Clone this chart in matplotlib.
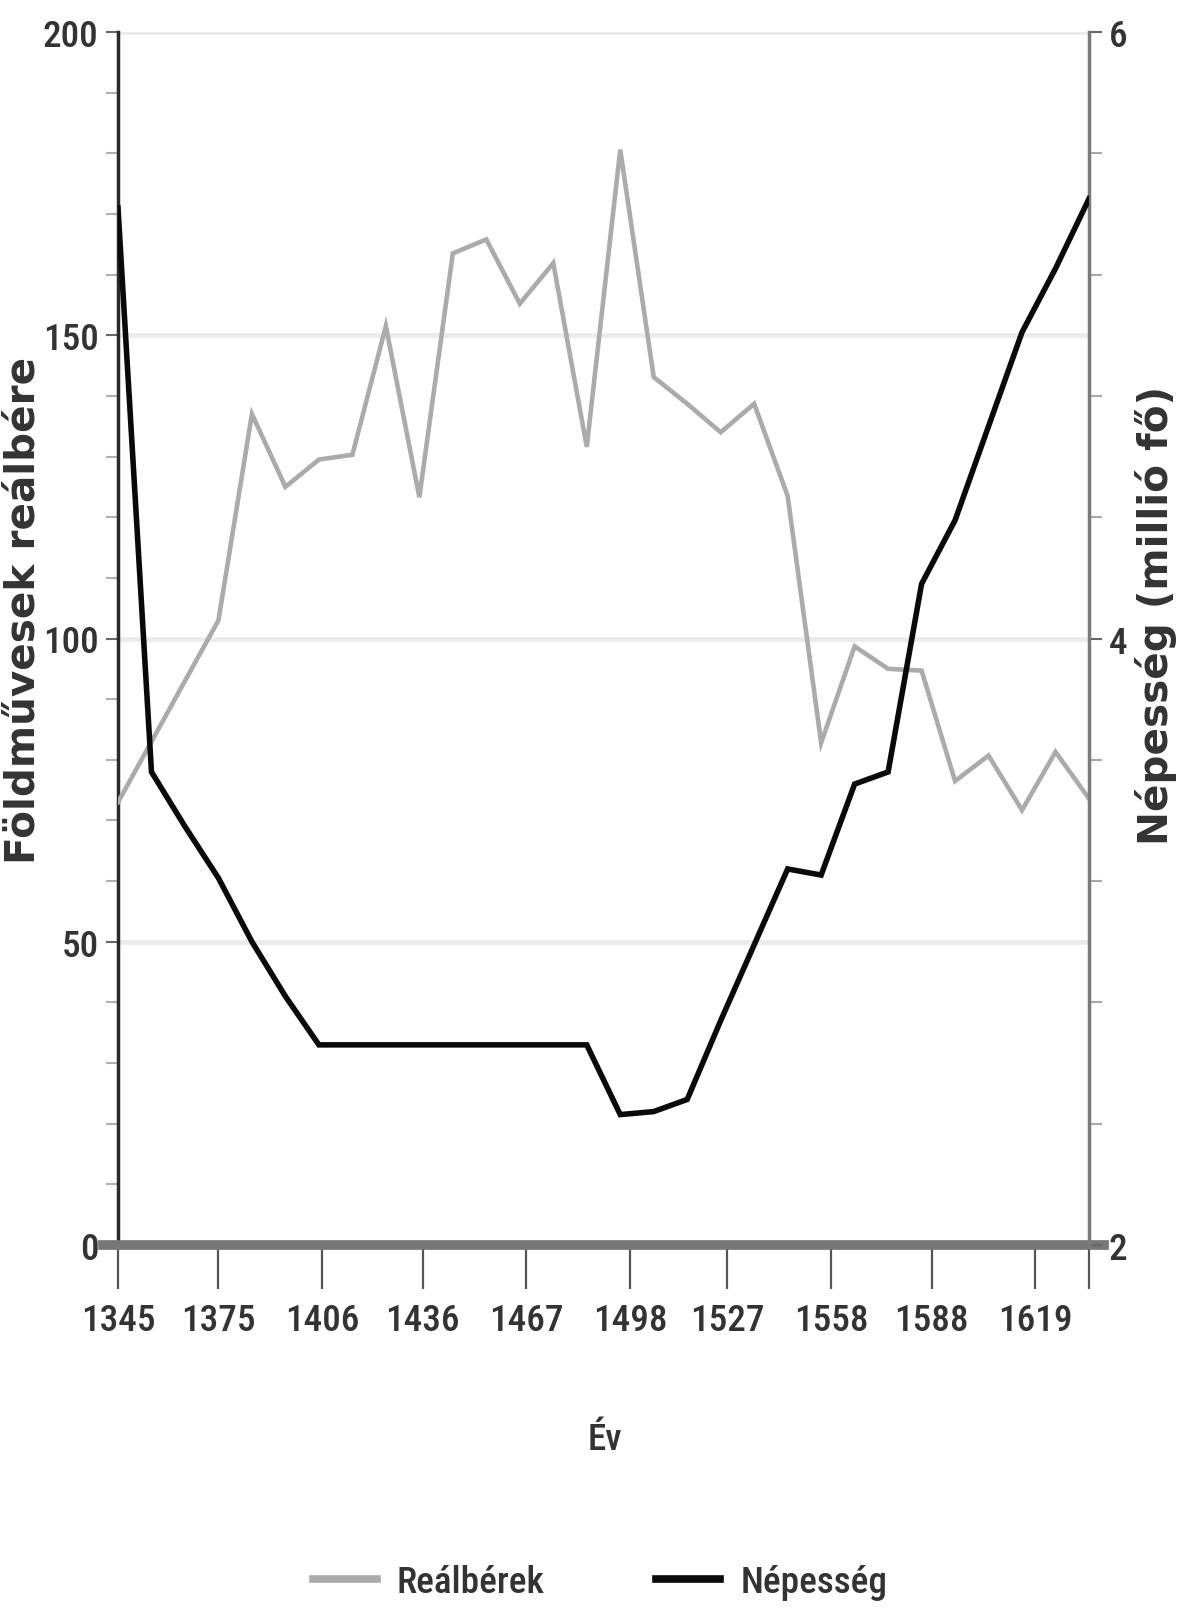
import os
import matplotlib
matplotlib.use("Agg")
import matplotlib.pyplot as plt
from matplotlib import font_manager as fm
from matplotlib.textpath import TextPath
from matplotlib.lines import Line2D
from matplotlib.ticker import FixedLocator, MultipleLocator, NullFormatter

# ---------------- data ----------------
years = [1345, 1355, 1365, 1375, 1385, 1395, 1405, 1415, 1425, 1435,
         1445, 1455, 1465, 1475, 1485, 1495, 1505, 1515, 1525, 1535,
         1545, 1555, 1565, 1575, 1585, 1595, 1605, 1615, 1625, 1635]
real_wages = [73, 83, 93, 103, 137, 125, 129.5, 130.3, 151.5, 123.3,
              163.5, 165.8, 155.2, 161.9, 131.6, 180.6, 143.1, 138.7, 134.0, 138.7,
              123.5, 82.8, 98.7, 95.0, 94.7, 76.5, 80.7, 71.7, 81.3, 73.6]
population = [5.42, 3.56, 3.38, 3.21, 3.00, 2.82, 2.66, 2.66, 2.66, 2.66,
              2.66, 2.66, 2.66, 2.66, 2.66, 2.43, 2.44, 2.48, 2.74, 2.99,
              3.24, 3.22, 3.52, 3.56, 4.18, 4.39, 4.70, 5.01, 5.22, 5.45]
xtick_years = [1345, 1375, 1406, 1436, 1467, 1498, 1527, 1558, 1588, 1619]
xtick_labels = ["1345", "1375", "1406", "1436", "1467", "1498", "1527", "1558", "1588", "1619"]
left_ticks = [0, 50, 100, 150, 200]
left_labels = ["0", "50", "100", "150", "200"]
right_ticks = [2, 4, 6]
right_labels = ["2", "4", "6"]
series_names = ["Reálbérek", "Népesség"]
left_title = "Földművesek reálbére"
right_title = "Népesség (millió fő)"
x_title = "Év"

DPI = 100

# ---------------- fonts ----------------
allowed = {"Noto Sans", "Liberation Sans Narrow", "Roboto", "Roboto Condensed",
           "Open Sans", "Open Sans Condensed", "DejaVu Sans", "Lato", "Inter",
           "Liberation Sans", "Noto Sans Display"}
cands = []
for f in fm.fontManager.ttflist:
    if f.name not in allowed or f.style != "normal":
        continue
    fn = os.path.basename(f.fname).lower()
    if "extracondensed" in fn or "ultracondensed" in fn:
        rank = 0
    elif ("condensed" in fn and "semicondensed" not in fn) or "narrow" in fn:
        rank = 1
    elif "semicondensed" in fn:
        rank = 2
    else:
        continue
    w = f.weight
    if not isinstance(w, int):
        w = fm.weight_dict.get(w, 400)
    if w < 400 or w > 600:
        continue
    cands.append((rank, abs(w - 500), fn, f.fname))
cands.sort()
if cands:
    fp_c = fm.FontProperties(fname=cands[0][3])
else:
    fp_c = fm.FontProperties(family="DejaVu Sans")
fp_b = fm.FontProperties(family="DejaVu Sans", weight="bold")


def extent_px(s, fp, size):
    p = fp.copy()
    p.set_size(size)
    bb = TextPath((0, 0), s, prop=p).get_extents()
    return bb.width * DPI / 72.0, bb.height * DPI / 72.0


def fit(s, fp, w, h):
    w1, h1 = extent_px(s, fp, 10)
    return min(10 * w / w1, 10 * h / h1)


tick_size = fit("1345", fp_c, 70, 52)
lab_size = fit(left_title, fp_b, 610, 33)

fp_tick = fp_c.copy(); fp_tick.set_size(tick_size)
fp_lab = fp_b.copy(); fp_lab.set_size(lab_size)

TXT = "#333333"

# ---------------- figure ----------------
fig = plt.figure(figsize=(11.78, 16.15), dpi=DPI)
L, R, T, B = 118, 1089, 33, 1246
W, H = 1178, 1615
ax = fig.add_axes([L / W, 1 - B / H, (R - L) / W, (B - T) / H])
ax2 = ax.twinx()

ax.set_xlim(years[0], years[-1])
ax.set_ylim(0, 200)
ax2.set_ylim(2, 6)

# gridlines
ax.set_axisbelow(True)
ax.yaxis.grid(True, which="major", color="#ebebeb", linewidth=3.4)

# series
ax.plot(years, real_wages, color="#ababab", linewidth=3.3, solid_joinstyle="miter", zorder=3)
ax2.plot(years, population, color="#0a0a0a", linewidth=4.0, solid_joinstyle="miter", zorder=3)

# spines
for s in ["top", "right", "bottom"]:
    ax.spines[s].set_visible(False)
for s in ["top", "left", "bottom"]:
    ax2.spines[s].set_visible(False)
ax.spines["left"].set_color("#2a2a2a")
ax.spines["left"].set_linewidth(2.5)
ax2.spines["right"].set_color("#7a7a7a")
ax2.spines["right"].set_linewidth(2.5)

# thick baseline at 0 extending slightly past the axes
ax.axhline(0, xmin=-0.0155, xmax=1.0155, color="#777777", linewidth=7,
           clip_on=False, zorder=4)

# x ticks
ax.xaxis.set_major_locator(FixedLocator(xtick_years))
ax.set_xticklabels(xtick_labels, fontproperties=fp_tick, color=TXT)
ax.xaxis.set_minor_locator(FixedLocator([years[-1]]))
ax.xaxis.set_minor_formatter(NullFormatter())
ax.tick_params(axis="x", which="both", direction="out", length=32, width=1.6,
               color="#555555", pad=9)

# left y ticks
ax.yaxis.set_major_locator(FixedLocator(left_ticks))
ax.set_yticklabels(left_labels, fontproperties=fp_tick, color=TXT)
ax.yaxis.set_minor_locator(MultipleLocator(10))
ax.tick_params(axis="y", which="major", direction="out", length=9, width=1.5,
               color="#666666", pad=5)
ax.tick_params(axis="y", which="minor", direction="out", length=9, width=1.5,
               color="#b0b0b0")

# right y ticks
ax2.yaxis.set_major_locator(FixedLocator(right_ticks))
ax2.set_yticklabels(right_labels, fontproperties=fp_tick, color=TXT)
ax2.yaxis.set_minor_locator(MultipleLocator(0.4))
ax2.tick_params(axis="y", which="major", direction="out", length=9, width=1.5,
                color="#666666", pad=5)
ax2.tick_params(axis="y", which="minor", direction="out", length=9, width=1.5,
                color="#a8a8a8")

# axis titles
fig.text(24 / W, 1 - 610 / H, left_title, rotation=90, ha="center", va="center",
         fontproperties=fp_lab, color=TXT)
fig.text(1156 / W, 1 - 615 / H, right_title, rotation=90, ha="center", va="center",
         fontproperties=fp_lab, color=TXT)
fig.text(605 / W, 1 - 1440 / H, x_title, ha="center", va="center",
         fontproperties=fp_tick, color=TXT)

# legend
em = tick_size * DPI / 72.0
handles = [Line2D([], [], color="#ababab", linewidth=5.5),
           Line2D([], [], color="#0a0a0a", linewidth=5.5)]
leg = fig.legend(handles, series_names, loc="center", bbox_to_anchor=(600 / W, 1 - 1583 / H),
                 ncol=2, frameon=False, prop=fp_tick, handlelength=64 / em,
                 handletextpad=20 / em, columnspacing=112 / em, borderpad=0)
for t in leg.get_texts():
    t.set_color(TXT)

fig.savefig("out.png", dpi=DPI)
